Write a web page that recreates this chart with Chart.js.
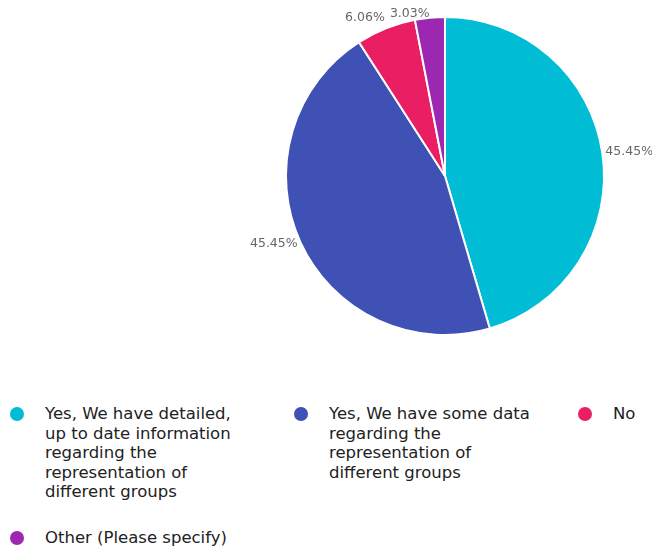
<!DOCTYPE html>
<html>
<head>
<meta charset="utf-8">
<script src="https://cdn.jsdelivr.net/npm/chart.js@4.4.1/dist/chart.umd.min.js"></script>
<style>
  body { margin: 0; background: #fff; font-family: "DejaVu Sans", sans-serif; }
  .wrap { position: relative; width: 652px; height: 546px; overflow: hidden; }
  .chart-box { position: absolute; left: 0; top: 0; width: 652px; height: 352px; }
  .legend { position: absolute; left: 10px; top: 404px; width: 642px; display: grid; grid-template-columns: 284px 284px auto; }
  .legend-item { display: flex; align-items: flex-start; margin-bottom: 26px; }
  .legend-dot { width: 14px; height: 14px; border-radius: 50%; margin-top: 3px; flex: none; }
  .legend-text { margin-left: 21px; font-size: 16.5px; line-height: 19.5px; color: #222; width: 205px; }
</style>
</head>
<body>
<div class="wrap">
  <div class="chart-box"><canvas id="pie"></canvas></div>
  <div class="legend" id="legend"></div>
</div>
<script>
// answers + counts (33 responses)
const categories = [
  "Yes, We have detailed, up to date information regarding the representation of different groups",
  "Yes, We have some data regarding the representation of different groups",
  "No",
  "Other (Please specify)"
];
const counts = [15, 15, 2, 1];
const colors = ['#00BCD4', '#3F51B5', '#E91E63', '#9C27B0'];

// percentage labels just outside each slice
const outsideLabels = {
  id: 'outsideLabels',
  afterDatasetsDraw(chart) {
    const ctx = chart.ctx;
    const meta = chart.getDatasetMeta(0);
    const total = counts.reduce((a, b) => a + b, 0);
    ctx.save();
    ctx.font = '12.5px "DejaVu Sans", sans-serif';
    ctx.fillStyle = '#666';
    ctx.textBaseline = 'middle';
    meta.data.forEach((arc, i) => {
      const mid = (arc.startAngle + arc.endAngle) / 2;
      const r = arc.outerRadius + 3;
      const dx = Math.cos(mid), dy = Math.sin(mid);
      let x = arc.x + r * dx;
      let y = arc.y + r * dy;
      if (dy < 0) y += 8 * dy;
      if (y < 14) y = 14;
      ctx.textAlign = dx >= 0 ? 'left' : 'right';
      const pct = (counts[i] / total * 100).toFixed(2) + '%';
      ctx.fillText(pct, x, y);
    });
    ctx.restore();
  }
};

const chart = new Chart(document.getElementById('pie'), {
  type: 'pie',
  data: {
    labels: categories,
    datasets: [{
      data: counts,
      backgroundColor: colors,
      borderColor: '#fff',
      borderWidth: 2
    }]
  },
  options: {
    responsive: true,
    maintainAspectRatio: false,
    animation: false,
    layout: { padding: { left: 285, right: 47, top: 16, bottom: 16 } },
    plugins: { legend: { display: false }, tooltip: { enabled: false } }
  },
  plugins: [outsideLabels]
});

// html legend below the pie
const legendEl = document.getElementById('legend');
categories.forEach((name, i) => {
  const item = document.createElement('div');
  item.className = 'legend-item';
  item.innerHTML = `<span class="legend-dot" style="background:${colors[i]}"></span><span class="legend-text">${name}</span>`;
  legendEl.appendChild(item);
});
</script>
</body>
</html>
